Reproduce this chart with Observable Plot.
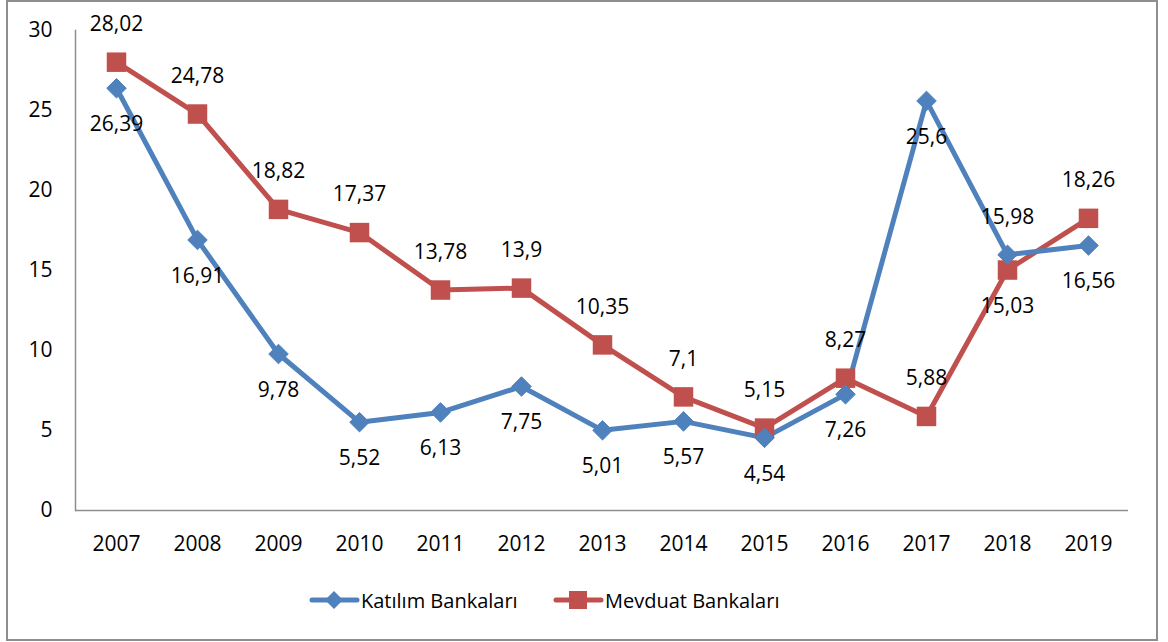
<!DOCTYPE html>
<html>
<head>
<meta charset="utf-8">
<script src="https://cdn.jsdelivr.net/npm/d3@7"></script>
<script src="https://cdn.jsdelivr.net/npm/@observablehq/plot@0.6"></script>
<style>
  html, body { margin: 0; padding: 0; background: #fff; }
  #page { position: relative; width: 1168px; height: 642px; overflow: hidden; font-family: "Open Sans", sans-serif; }
  #border { position: absolute; left: 6px; top: 0px; width: 1148px; height: 637px; border: 2px solid #8e8e8e; }
  #chart { position: absolute; left: 0; top: 0; }
  #legend { position: absolute; top: 585px; left: 0; width: 1168px; height: 30px; font-size: 20px; color: #000; }
  .item { position: absolute; top: 0; display: flex; align-items: center; height: 30px; }
</style>
</head>
<body>
<div id="page">
  <div id="border"></div>
  <div id="chart"></div>
  <div id="legend"></div>
</div>
<script>
const years = ["2007","2008","2009","2010","2011","2012","2013","2014","2015","2016","2017","2018","2019"];
const katilim = [26.39, 16.91, 9.78, 5.52, 6.13, 7.75, 5.01, 5.57, 4.54, 7.26, 25.6, 15.98, 16.56];
const mevduat = [28.02, 24.78, 18.82, 17.37, 13.78, 13.9, 10.35, 7.1, 5.15, 8.27, 5.88, 15.03, 18.26];
const seriesNames = ["Katılım Bankaları", "Mevduat Bankaları"];
const yTicks = [0, 5, 10, 15, 20, 25, 30];
// label side per point: true = above
const katilimAbove = [false,false,false,false,false,false,false,false,false,false,false,true,false];
const mevduatAbove = [true,true,true,true,true,true,true,true,true,true,true,false,true];

const colors = {"Katılım Bankaları": "#4F81BD", "Mevduat Bankaları": "#C0504D"};
const kData = years.map((y, i) => ({year: y, value: katilim[i], series: seriesNames[0], above: katilimAbove[i]}));
const mData = years.map((y, i) => ({year: y, value: mevduat[i], series: seriesNames[1], above: mevduatAbove[i]}));
const all = kData.concat(mData);
const fmt = v => String(v).replace(".", ",");
const font = "Open Sans";
const fs = 21;

const chart = Plot.plot({
  width: 1168,
  height: 560,
  marginLeft: 75,
  marginRight: 40,
  marginTop: 30,
  marginBottom: 50,
  style: {fontFamily: font, fontSize: fs + "px", color: "#000", background: "transparent"},
  x: {type: "point", domain: years, padding: 0.5, align: 0.5},
  y: {domain: [0, 30]},
  marks: [
    Plot.axisY({ticks: yTicks, tickSize: 0, tickPadding: 23, fontSize: fs, label: null, tickFormat: d => d}),
    Plot.axisX({tickSize: 0, tickPadding: 26, fontSize: fs, label: null}),
    Plot.frame({anchor: "left", stroke: "#8e8e8e", strokeWidth: 1.5}),
    Plot.ruleY([0], {stroke: "#8e8e8e", strokeWidth: 1.5}),
    Plot.line(mData, {x: "year", y: "value", stroke: colors[seriesNames[1]], strokeWidth: 5}),
    Plot.line(kData, {x: "year", y: "value", stroke: colors[seriesNames[0]], strokeWidth: 5}),
    Plot.dot(mData, {x: "year", y: "value", symbol: "square", r: 11, fill: colors[seriesNames[1]], stroke: "none"}),
    Plot.dot(kData, {x: "year", y: "value", symbol: "diamond2", r: 8.8, fill: colors[seriesNames[0]], stroke: colors[seriesNames[0]], strokeWidth: 1}),
    Plot.text(all.filter(d => d.above), {x: "year", y: "value", text: d => fmt(d.value), dy: -38, fontSize: fs, fill: "#000"}),
    Plot.text(all.filter(d => !d.above), {x: "year", y: "value", text: d => fmt(d.value), dy: 36, fontSize: fs, fill: "#000"})
  ]
});
document.getElementById("chart").appendChild(chart);

// legend
const legend = document.getElementById("legend");
const legendItems = [
  {name: seriesNames[0], left: 309, sym: "diamond"},
  {name: seriesNames[1], left: 553, sym: "square"}
];
for (const it of legendItems) {
  const c = colors[it.name];
  const div = document.createElement("div");
  div.className = "item";
  div.style.left = it.left + "px";
  const shape = it.sym === "diamond"
    ? `<path d="M25,6 L34,15 L25,24 L16,15 Z" fill="${c}"/>`
    : `<rect x="16" y="6" width="18" height="18" fill="${c}"/>`;
  div.innerHTML = `<svg width="51" height="30" style="display:block"><line x1="3" x2="48" y1="15" y2="15" stroke="${c}" stroke-width="5" stroke-linecap="round"/>${shape}</svg><span style="margin-left:1px">${it.name}</span>`;
  legend.appendChild(div);
}
</script>
</body>
</html>
